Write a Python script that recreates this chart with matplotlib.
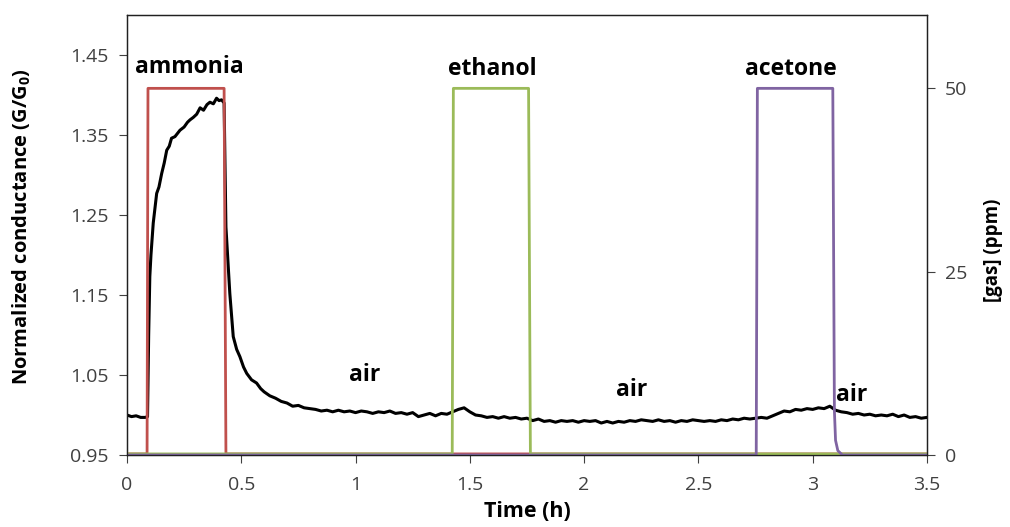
import numpy as np
import matplotlib.pyplot as plt

plt.rcParams['font.family'] = ['Open Sans', 'DejaVu Sans']
plt.rcParams['mathtext.fontset'] = 'custom'
plt.rcParams['mathtext.rm'] = 'Open Sans'
plt.rcParams['mathtext.bf'] = 'Open Sans:bold'

# normalized conductance G/G0 vs time (h)
t_cond = [0.00, 0.02, 0.04, 0.06, 0.08, 0.09,
          0.095, 0.10, 0.105, 0.115, 0.13, 0.14, 0.152, 0.163, 0.174, 0.185, 0.195,
          0.21, 0.232, 0.25, 0.265, 0.276, 0.29, 0.305, 0.32, 0.335, 0.35, 0.363,
          0.378, 0.392, 0.403, 0.414, 0.425,
          0.433, 0.44, 0.45, 0.465, 0.48, 0.494, 0.51, 0.524, 0.545, 0.567, 0.585,
          0.600, 0.625, 0.650, 0.675, 0.700, 0.725, 0.750, 0.775, 0.800, 0.825,
          0.850, 0.875, 0.900, 0.925, 0.950, 0.975, 1.000, 1.025, 1.050, 1.075,
          1.100, 1.125, 1.150, 1.175, 1.200, 1.225, 1.250, 1.275, 1.300, 1.325,
          1.350, 1.375, 1.400, 1.425, 1.450, 1.475, 1.500, 1.525, 1.550, 1.575,
          1.600, 1.625, 1.650, 1.675, 1.700, 1.725, 1.750, 1.775, 1.800, 1.825,
          1.850, 1.875, 1.900, 1.925, 1.950, 1.975, 2.000, 2.025, 2.050, 2.075,
          2.100, 2.125, 2.150, 2.175, 2.200, 2.225, 2.250, 2.275, 2.300, 2.325,
          2.350, 2.375, 2.400, 2.425, 2.450, 2.475, 2.500, 2.525, 2.550, 2.575,
          2.600, 2.625, 2.650, 2.675, 2.700, 2.725, 2.750, 2.775, 2.800, 2.825,
          2.850, 2.875, 2.900, 2.925, 2.950, 2.975, 3.000, 3.025, 3.050, 3.075,
          3.100, 3.125, 3.150, 3.175, 3.200, 3.225, 3.250, 3.275, 3.300, 3.325,
          3.350, 3.375, 3.400, 3.425, 3.450, 3.475, 3.500]
g_cond = [1.000, 0.998, 0.999, 0.997, 0.997, 0.998,
          1.100, 1.173, 1.200, 1.240, 1.277, 1.285, 1.302, 1.315, 1.331, 1.336, 1.346,
          1.348, 1.356, 1.360, 1.366, 1.369, 1.372, 1.376, 1.384, 1.381, 1.388, 1.391,
          1.389, 1.396, 1.393, 1.394, 1.390,
          1.235, 1.200, 1.152, 1.098, 1.082, 1.073, 1.060, 1.052, 1.044, 1.040, 1.033,
          1.029, 1.024, 1.021, 1.017, 1.015, 1.011, 1.012, 1.009, 1.008, 1.007,
          1.005, 1.006, 1.004, 1.006, 1.004, 1.005, 1.003, 1.005, 1.004, 1.002,
          1.004, 1.003, 1.005, 1.002, 1.003, 1.001, 1.003, 0.998, 1.000, 1.002,
          0.999, 1.002, 1.001, 1.004, 1.007, 1.009, 1.004, 1.000, 0.999, 0.997,
          0.998, 0.996, 0.998, 0.996, 0.997, 0.995, 0.996, 0.993, 0.995, 0.992,
          0.993, 0.991, 0.993, 0.992, 0.993, 0.991, 0.993, 0.992, 0.993, 0.990,
          0.992, 0.990, 0.992, 0.991, 0.993, 0.992, 0.994, 0.993, 0.992, 0.994,
          0.992, 0.993, 0.991, 0.993, 0.992, 0.994, 0.993, 0.992, 0.993, 0.992,
          0.994, 0.993, 0.995, 0.994, 0.996, 0.995, 0.996, 0.997, 0.996, 0.999,
          1.002, 1.005, 1.004, 1.007, 1.006, 1.008, 1.007, 1.009, 1.008, 1.011,
          1.006, 1.004, 1.003, 1.001, 1.002, 1.000, 1.001, 0.999, 1.000, 0.999,
          1.001, 0.998, 1.000, 0.997, 0.998, 0.996, 0.997]

# gas concentration pulses (ppm)
t_ammonia = [0.0, 0.088, 0.092, 0.425, 0.433, 3.5]
c_ammonia = [0.15, 0.15, 50, 50, 0.15, 0.15]
t_ethanol = [0.0, 1.423, 1.428, 1.757, 1.765, 3.5]
c_ethanol = [0.15, 0.15, 50, 50, 0.15, 0.15]
t_acetone = [0.0, 2.753, 2.758, 3.088, 3.095, 3.100, 3.110, 3.130, 3.5]
c_acetone = [0.0, 0.0, 50, 50, 6, 2, 0.6, 0.0, 0.0]

gas_names = ['ammonia', 'ethanol', 'acetone']
gas_colors = ['#C0504D', '#9BBB59', '#8064A2']

fig = plt.figure(figsize=(10.1, 5.27), dpi=100)
ax = fig.add_axes([0.1257, 0.1366, 0.7921, 0.8349])
ax2 = ax.twinx()

ax.plot(t_cond, g_cond, color='black', lw=2.2, zorder=3)

for t, c, col in zip([t_ammonia, t_ethanol, t_acetone],
                     [c_ammonia, c_ethanol, c_acetone], gas_colors):
    ax2.plot(t, c, color=col, lw=2.0)

ax.set_xlim(0, 3.5)
ax.set_ylim(0.95, 1.50)
ax2.set_ylim(0, 60)
ax.set_xticks([0, 0.5, 1, 1.5, 2, 2.5, 3, 3.5])
ax.set_xticklabels(['0', '0.5', '1', '1.5', '2', '2.5', '3', '3.5'])
ax.set_yticks([0.95, 1.05, 1.15, 1.25, 1.35, 1.45])
ax.set_yticklabels(['0.95', '1.05', '1.15', '1.25', '1.35', '1.45'])
ax2.set_yticks([0, 25, 50])

tick_col = '#404040'
for a in (ax, ax2):
    a.tick_params(direction='out', length=6, width=0.8, labelsize=14, pad=7,
                  labelcolor=tick_col, color='#404040')
    for s in a.spines.values():
        s.set_linewidth(0.9)
        s.set_color('#202020')
ax.tick_params(axis='x', pad=9)

ax.set_xlabel('Time (h)', fontsize=15.5, fontweight='bold')
ax.xaxis.set_label_coords(0.5, -0.105)
ax.set_ylabel(r'Normalized conductance (G/G$_\mathbf{0}$)', fontsize=14.5,
              fontweight='bold')
ax.yaxis.set_label_coords(-0.1175, 0.52)
ax2.set_ylabel('[gas] (ppm)', fontsize=13.5, fontweight='bold')
ax2.yaxis.set_label_coords(1.07, 0.466)

# labels above pulses and air periods
lab = dict(ha='center', va='center', fontsize=16.5, fontweight='bold')
ax.text(0.275, 1.435, 'ammonia', **lab)
ax.text(1.60, 1.432, 'ethanol', **lab)
ax.text(2.905, 1.432, 'acetone', **lab)
ax.text(1.04, 1.05, 'air', **lab)
ax.text(2.21, 1.031, 'air', **lab)
ax.text(3.17, 1.025, 'air', **lab)

fig.savefig('out.png', dpi=100)
